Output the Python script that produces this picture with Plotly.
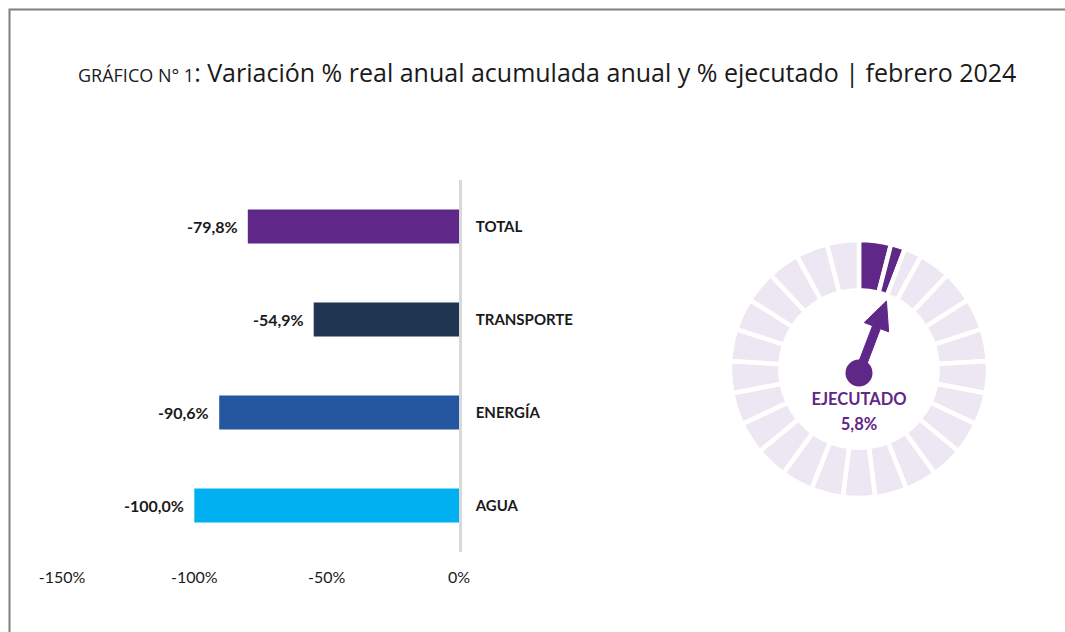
import math
import plotly.graph_objects as go

# ---------------- data ----------------
categories = ["TOTAL", "TRANSPORTE", "ENERGÍA", "AGUA"]
variacion = [-79.8, -54.9, -90.6, -100.0]
bar_colors = ["#5F2787", "#1F3552", "#2457A0", "#00B0F0"]
x_ticks = [-150, -100, -50, 0]
x_tick_labels = ["-150%", "-100%", "-50%", "0%"]

ejecutado = 5.8           # % ejecutado
n_segments = 25           # segments of the gauge ring

title_prefix = "GRÁFICO N° 1"
title_main = ": Variación % real anual acumulada anual y % ejecutado | febrero 2024"

PURPLE = "#5F2787"
LAVENDER = "#ECE7F3"
W, H = 1065, 632
FONT = "Lato"


def fx(px):
    return px / W


def fy(py):
    return 1 - py / H


fig = go.Figure()

# ---------------- horizontal bars ----------------
fig.add_trace(go.Bar(
    y=categories, x=variacion, orientation="h",
    marker=dict(color=bar_colors, line=dict(width=0)),
    width=0.365, hoverinfo="skip", showlegend=False,
    xaxis="x", yaxis="y",
))
for cat, v in zip(categories, variacion):
    fig.add_annotation(
        x=v, y=cat, xref="x", yref="y", xanchor="right", yanchor="middle",
        xshift=-8, showarrow=False,
        text=f"<b>{v:.1f}%</b>".replace(".", ","),
        font=dict(family=FONT, size=16, color="#1a1a1a"),
    )

# ---------------- gauge ring ----------------
seg = 100.0 / n_segments
full = int(ejecutado // seg)
part = ejecutado - full * seg
values, colors = [], []
for i in range(n_segments):
    if i < full:
        values.append(seg); colors.append(PURPLE)
    elif i == full and part > 0:
        values.append(part); colors.append(PURPLE)
        values.append(seg - part); colors.append(LAVENDER)
    else:
        values.append(seg); colors.append(LAVENDER)

gx0, gx1 = 730, 988
gy0, gy1 = 240, 498
fig.add_trace(go.Pie(
    values=values, sort=False, direction="clockwise", rotation=0,
    hole=0.61, textinfo="none", hoverinfo="skip", showlegend=False,
    automargin=False,
    marker=dict(colors=colors, line=dict(color="white", width=4.5)),
    domain=dict(x=[fx(gx0), fx(gx1)], y=[fy(gy1), fy(gy0)]),
))

# ---------------- needle ----------------
ang = math.radians(ejecutado / 100 * 360)
ux, uy = math.sin(ang), math.cos(ang)      # direction (clockwise from top)
vx, vy = uy, -ux                            # perpendicular
pivot = (0.0, -4.0)
tip_len, head_len, head_hw, shaft_hw = 77.0, 28.0, 13.0, 4.2
bx, by = pivot[0] + ux * (tip_len - head_len), pivot[1] + uy * (tip_len - head_len)
tx, ty = pivot[0] + ux * tip_len, pivot[1] + uy * tip_len
pts = [
    (pivot[0] + vx * shaft_hw, pivot[1] + vy * shaft_hw),
    (bx + vx * shaft_hw, by + vy * shaft_hw),
    (bx + vx * head_hw, by + vy * head_hw),
    (tx, ty),
    (bx - vx * head_hw, by - vy * head_hw),
    (bx - vx * shaft_hw, by - vy * shaft_hw),
    (pivot[0] - vx * shaft_hw, pivot[1] - vy * shaft_hw),
]
pts.append(pts[0])
fig.add_trace(go.Scatter(
    x=[p[0] for p in pts], y=[p[1] for p in pts], mode="lines",
    fill="toself", fillcolor=PURPLE, line=dict(color=PURPLE, width=1),
    hoverinfo="skip", showlegend=False, xaxis="x2", yaxis="y2",
    cliponaxis=False,
))
fig.add_trace(go.Scatter(
    x=[pivot[0]], y=[pivot[1]], mode="markers",
    marker=dict(color=PURPLE, size=27, line=dict(width=0)),
    hoverinfo="skip", showlegend=False, xaxis="x2", yaxis="y2",
    cliponaxis=False,
))
fig.add_trace(go.Scatter(
    x=[0, 0], y=[-32, -57], mode="text",
    text=["<b>EJECUTADO</b>", f"<b>{ejecutado:.1f}%</b>".replace(".", ",")],
    textfont=dict(family=FONT, size=16.5, color=PURPLE),
    hoverinfo="skip", showlegend=False, xaxis="x2", yaxis="y2",
    cliponaxis=False,
))

half = (gx1 - gx0) / 2

# ---------------- layout ----------------
fig.update_layout(
    width=W, height=H, margin=dict(l=0, r=0, t=0, b=0, pad=0, autoexpand=False),
    paper_bgcolor="white", plot_bgcolor="white",
    font=dict(family=FONT, color="#1a1a1a"),
    bargap=0.5,
    xaxis=dict(
        domain=[fx(62), fx(459)], range=[-150, 0],
        tickmode="array", tickvals=x_ticks, ticktext=x_tick_labels,
        showgrid=False, zeroline=False, showline=False,
        ticks="", ticklabelstandoff=14, automargin=False,
        tickfont=dict(family=FONT, size=16, color="#1a1a1a"),
        fixedrange=True,
    ),
    yaxis=dict(
        domain=[fy(552), fy(180)], anchor="x", side="right",
        categoryorder="array", categoryarray=categories[::-1],
        showgrid=False, zeroline=False, automargin=False,
        showline=True, linecolor="#D9D9D9", linewidth=2.5,
        ticks="", ticklabelstandoff=11,
        tickfont=dict(family=FONT, size=15, color="#1a1a1a", weight="bold"),
        fixedrange=True,
    ),
    xaxis2=dict(
        domain=[fx(gx0), fx(gx1)], range=[-half, half], anchor="y2",
        visible=False, fixedrange=True, automargin=False,
    ),
    yaxis2=dict(
        domain=[fy(gy1), fy(gy0)], range=[-half, half], anchor="x2",
        visible=False, fixedrange=True, automargin=False,
    ),
    shapes=[dict(
        type="rect", xref="paper", yref="paper",
        x0=fx(9.5), x1=1.2, y0=-0.2, y1=fy(9.5),
        line=dict(color="#7F7F7F", width=2), fillcolor="rgba(0,0,0,0)",
        layer="below",
    )],
    annotations=list(fig.layout.annotations) + [dict(
        x=fx(547), y=fy(72), xref="paper", yref="paper",
        xanchor="center", yanchor="middle", showarrow=False,
        text=f"<span style='font-size:18px'>{title_prefix}</span>{title_main}",
        font=dict(family="Open Sans", size=25, color="#1a1a1a"),
    )],
)

fig.write_html("out.html")
